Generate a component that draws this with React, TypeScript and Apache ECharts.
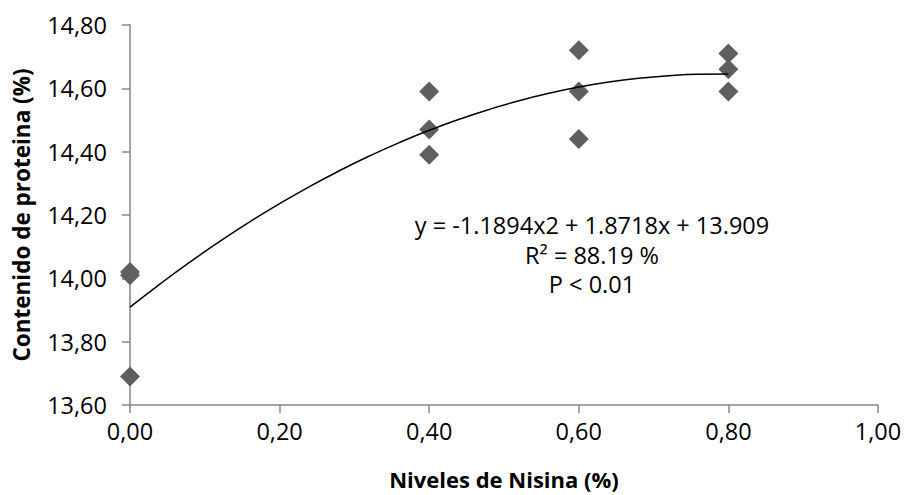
import React, { useEffect, useRef } from "react";
import * as echarts from "echarts";

const nisinaLevels = [0, 0, 0, 0.4, 0.4, 0.4, 0.6, 0.6, 0.6, 0.8, 0.8, 0.8];
const proteinValues = [14.01, 14.02, 13.69, 14.59, 14.47, 14.39, 14.72, 14.59, 14.44, 14.71, 14.66, 14.59];
// quadratic trend coefficients as printed: a*x^2 + b*x + c
const trendCoefficients = [-1.1894, 1.8718, 13.909];
const trendXs = [0, 0.04, 0.08, 0.12, 0.16, 0.2, 0.24, 0.28, 0.32, 0.36, 0.4, 0.44, 0.48, 0.52, 0.56, 0.6, 0.64, 0.68, 0.72, 0.76, 0.8];
const equationLines = ["y = -1.1894x2 + 1.8718x + 13.909", "R² = 88.19 %", "P < 0.01"];

const FONT = "'Open Sans', 'Noto Sans', sans-serif";

export default function App() {
  const ref = useRef<HTMLDivElement>(null);
  useEffect(() => {
    document.body.style.margin = "0";
    if (!ref.current) return;
    const chart = echarts.init(ref.current, undefined, { renderer: "svg" });
    const [a, b, c] = trendCoefficients;
    const trend = trendXs.map((x) => [x, a * x * x + b * x + c]);
    const fmt = (v: number) => v.toFixed(2).replace(".", ",");
    chart.setOption({
      animation: false,
      backgroundColor: "#fff",
      grid: { left: 130, right: 27, top: 25, bottom: 87, containLabel: false },
      xAxis: {
        type: "value",
        min: 0,
        max: 1,
        interval: 0.2,
        name: "Niveles de Nisina (%)",
        nameLocation: "middle",
        nameGap: 63,
        nameTextStyle: { fontFamily: FONT, fontSize: 22, fontWeight: "bold", color: "#000" },
        axisLine: { show: true, onZero: false, lineStyle: { color: "#868686", width: 1.5 } },
        axisTick: { show: true, length: 8, lineStyle: { color: "#868686", width: 1.5 } },
        axisLabel: { formatter: fmt, fontFamily: FONT, fontSize: 23.5, color: "#000", margin: 14 },
        splitLine: { show: false },
      },
      yAxis: {
        type: "value",
        min: 13.6,
        max: 14.8,
        interval: 0.2,
        name: "Contenido de proteina (%)",
        nameLocation: "middle",
        nameGap: 97,
        nameTextStyle: { fontFamily: FONT, fontSize: 22.5, fontWeight: "bold", color: "#000" },
        axisLine: { show: true, lineStyle: { color: "#868686", width: 1.5 } },
        axisTick: { show: true, length: 8, lineStyle: { color: "#868686", width: 1.5 } },
        axisLabel: { formatter: fmt, fontFamily: FONT, fontSize: 23.5, color: "#000", margin: 23 },
        splitLine: { show: false },
      },
      series: [
        {
          type: "line",
          data: trend,
          smooth: true,
          symbol: "none",
          lineStyle: { color: "#000", width: 1.5 },
          z: 3,
        },
        {
          type: "scatter",
          data: nisinaLevels.map((x, i) => [x, proteinValues[i]]),
          symbol: "diamond",
          symbolSize: 20,
          itemStyle: { color: "#5f5f5f", opacity: 1 },
          z: 2,
        },
      ],
      graphic: equationLines.map((t, i) => ({
        type: "text",
        x: 592,
        y: 225 + i * 29.5,
        style: {
          text: t,
          align: "center",
          verticalAlign: "middle",
          fontFamily: FONT,
          fontSize: 23.5,
          fill: "#000",
        },
      })),
    });
    return () => chart.dispose();
  }, []);
  return <div ref={ref} style={{ width: 905, height: 495 }} />;
}
